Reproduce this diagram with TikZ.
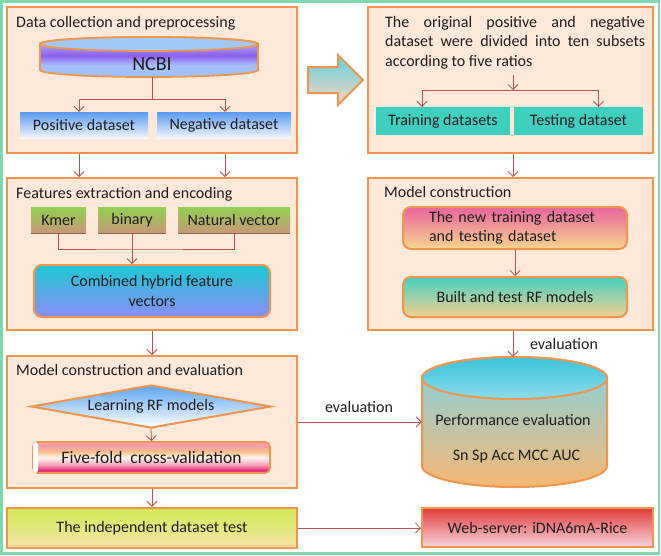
\documentclass[tikz,border=0pt]{standalone}
\usepackage{fontspec}
\setmainfont{Carlito}
\usetikzlibrary{arrows.meta,shapes.geometric,calc}
\definecolor{boxline}{HTML}{F0954E}
\definecolor{boxfill}{HTML}{FDE9DA}
\definecolor{arrowc}{HTML}{C0504D}
\definecolor{outerg}{HTML}{7FD8AE}
\definecolor{dsblue}{HTML}{5A9AF0}
\definecolor{dswhite}{HTML}{F2F6FD}
\definecolor{ncbilight}{HTML}{A6CBF8}
\definecolor{ncbimid}{HTML}{A8BEF8}
\definecolor{ncbipurple}{HTML}{8E5EF0}
\definecolor{ncbilav}{HTML}{9C86F2}
\definecolor{ncbibot}{HTML}{9EC4FA}
\definecolor{ncbitop}{HTML}{A2C8F6}
\definecolor{featgreen}{HTML}{92D050}
\definecolor{featbrown}{HTML}{C8987A}
\definecolor{featline}{HTML}{A0603E}
\definecolor{combtop}{HTML}{1CC8D4}
\definecolor{combbot}{HTML}{8C8EF6}
\definecolor{diamblue}{HTML}{5DA5F2}
\definecolor{fivepink}{HTML}{F7A0A6}
\definecolor{fiveorange}{HTML}{F8BC88}
\definecolor{fivewhite}{HTML}{FFF6F0}
\definecolor{fiverose}{HTML}{F4A0B4}
\definecolor{fivemag}{HTML}{E6337A}
\definecolor{indtop}{HTML}{D2E855}
\definecolor{indbot}{HTML}{F3E7A8}
\definecolor{tealbox}{HTML}{3FCFBF}
\definecolor{newtop}{HTML}{E8649E}
\definecolor{newbot}{HTML}{F8D68E}
\definecolor{builttop}{HTML}{44D0C2}
\definecolor{builtbot}{HTML}{F6D08E}
\definecolor{perftop}{HTML}{7FD3E6}
\definecolor{perfmid}{HTML}{F8E2EA}
\definecolor{perfbot}{HTML}{F7B772}
\definecolor{perfcap}{HTML}{3CC4D8}
\definecolor{perfcapb}{HTML}{8ADCEC}
\definecolor{webred}{HTML}{E03A3A}
\definecolor{webpink}{HTML}{F8D6DE}
\definecolor{arrtop}{HTML}{5ED0E0}
\definecolor{arrmid}{HTML}{F8D8E4}
\definecolor{arrbot}{HTML}{FBD6BE}
\definecolor{txtc}{HTML}{1E1E1E}
\pgfdeclareverticalshading{ncbishade}{100bp}{color(0bp)=(ncbibot); color(25bp)=(ncbibot); color(40bp)=(ncbimid); color(52bp)=(ncbipurple); color(60bp)=(ncbilav); color(75bp)=(ncbilight); color(100bp)=(ncbilight)}
\pgfdeclareverticalshading{fiveshade}{100bp}{color(0bp)=(fivemag); color(25bp)=(fivemag); color(30bp)=(fivemag); color(38bp)=(fiverose); color(50bp)=(fivewhite); color(60bp)=(fiveorange); color(68bp)=(fivepink); color(75bp)=(fivepink); color(100bp)=(fivepink)}
\begin{document}
\begin{tikzpicture}[x=1pt,y=1pt,
  txt/.style={font=\fontsize{16}{19.5}\selectfont, text=txtc},
  stage/.style={draw=boxline, line width=2pt, fill=boxfill, minimum width=290pt, inner sep=0pt},
  ttl/.style={txt, anchor=base west, inner sep=0pt},
  arr/.style={draw=arrowc, line width=0.8pt, -{Straight Barb[length=5pt,width=10pt]}},
  ln/.style={draw=arrowc, line width=0.8pt},
  dsbox/.style={txt, top color=dsblue, bottom color=dswhite, minimum height=26pt, inner sep=0pt},
  featbox/.style={txt, top color=featgreen, bottom color=featbrown, minimum height=26pt, inner sep=0pt},
  tealb/.style={txt, fill=tealbox, minimum height=28pt, inner sep=0pt},
  rbox/.style={txt, draw=boxline, line width=2pt, rounded corners=8pt, inner sep=0pt, align=center},
]
\useasboundingbox (0,0) rectangle (661,-555);
\draw[outerg, line width=2.2pt] (1.5,-1.5) rectangle (659,-553.5);

% ---------- left column ----------
\node[stage, minimum height=146pt] (b1) at (152,-80) {};
\node[ttl] (b1t) at (16,-27) {Data collection and preprocessing};
% NCBI cylinder
\shade[shading=ncbishade, draw=boxline, line width=1.8pt]
  (40,-44) -- (40,-70) arc[start angle=180, end angle=360, x radius=109, y radius=7]
  -- (258,-44) arc[start angle=0, end angle=180, x radius=109, y radius=7] -- cycle;
\filldraw[fill=ncbitop, draw=boxline, line width=1.8pt] (149,-44) ellipse[x radius=109, y radius=7];
\node[font=\fontsize{20}{22}\selectfont, text=txtc, minimum height=26pt, inner sep=0pt] (ncbi) at (152,-64) {NCBI};
\node[dsbox, minimum width=128pt] (pos) at (84,-125) {Positive dataset};
\node[dsbox, minimum width=134pt] (neg) at (224,-125) {Negative dataset};
\coordinate (j1) at (152,-99);
\coordinate (pa) at ($(pos.north)+(-5,0)$);
\coordinate (na) at ($(neg.north)+(1,0)$);
\draw[ln] (ncbi.south) -- (j1);
\draw[arr] (j1) -| (pa);
\draw[arr] (j1) -| (na);

\node[stage, minimum height=152pt] (b2) at (152,-254) {};
\node[ttl] (b2t) at (16,-198) {Features extraction and encoding};
\draw[arr] (pa |- b1.south) -- (pa |- b2.north);
\draw[arr] (na |- b1.south) -- (na |- b2.north);
\node[featbox, minimum width=55pt] (kmer) at (58.5,-220) {Kmer};
\node[featbox, minimum width=68pt] (binary) at (132,-220) {binary};
\node[featbox, minimum width=112pt] (natural) at (234,-220) {Natural vector};
\foreach \n in {kmer,binary,natural}
  \draw[featline, line width=1pt] (\n.south west) -- (\n.south east);
\node[rbox, top color=combtop, bottom color=combbot, minimum width=236pt, minimum height=52pt] (comb) at (152,-291) {Combined hybrid feature\\vectors};
\coordinate (j2) at (133,-249);
\draw[ln] (kmer.south) |- (j2) -| (natural.south);
\draw[arr] (binary.south) -- (binary.south |- comb.north);

\node[stage, minimum height=132pt] (b3) at (152,-422) {};
\node[ttl] (b3t) at (16,-375) {Model construction and evaluation};
\draw[arr] (b2.south) -- (b3.north);
\node[txt, diamond, aspect=5.6, inner sep=0pt, minimum width=240pt, minimum height=43pt, draw=boxline, line width=2pt, top color=diamblue, middle color=diamblue!85!white, bottom color=white] (learn) at (151,-406.5) {Learning RF models};
\node[txt, font=\fontsize{17.5}{20}\selectfont, draw=boxline, line width=1.8pt, rounded corners=5pt, shading=fiveshade, minimum width=237pt, minimum height=31pt, inner sep=0pt] (five) at (151.5,-457.5) {Five-fold\ \ cross-validation};
\fill[white, rounded corners=3pt] ($(five.north west)+(1,-1)$) rectangle ($(five.south west)+(6,1)$);
\draw[arr] (learn.south) -- (five.north);

\node[txt, draw=boxline, line width=2.5pt, top color=indtop, bottom color=indbot, minimum width=290pt, minimum height=40pt, inner sep=0pt] (b4) at (152,-528) {The independent dataset test};
\draw[boxline!60, line width=0.8pt] ($(b4.south west)+(3,4)$) -- ($(b4.south east)+(-3,4)$);
\draw[arr] (b3.south) -- (b4.north);

% ---------- big arrow ----------
\shade[top color=arrtop, middle color=arrmid, bottom color=arrbot, draw=boxline, line width=2pt]
  (308,-67) -- (338,-67) -- (338,-55) -- (363,-80) -- (338,-105) -- (338,-93) -- (308,-93) -- cycle;

% ---------- right column ----------
\node[stage, minimum width=285pt, minimum height=146pt] (b5) at (510.5,-80) {};
\node[txt, anchor=north west, text width=260pt, align=justify, inner sep=0pt] (b5t) at (385,-16) {The original positive and negative\linebreak dataset were divided into ten subsets\linebreak according to five ratios};
\node[tealb, minimum width=134pt] (train) at (443,-121) {Training datasets};
\node[tealb, minimum width=129pt] (test) at (578.5,-121) {Testing dataset};
\coordinate (j5) at (513,-90);
\coordinate (ta) at ($(train.north)+(-21,0)$);
\coordinate (sa) at ($(test.north)+(20,0)$);
\draw[arr] (513,-75) -- (j5);
\draw[ln] (j5) -| (ta);
\draw[ln] (j5) -| (sa);
\draw[arr] ($(ta)+(0,15)$) -- (ta);
\draw[arr] ($(sa)+(0,15)$) -- (sa);

\node[stage, minimum width=285pt, minimum height=152pt] (b6) at (510.5,-254) {};
\node[ttl] (b6t) at (384,-197) {Model construction};
\coordinate (m5) at (513,0);
\draw[arr] (m5 |- b5.south) -- (m5 |- b6.north);
\node[rbox, top color=newtop, bottom color=newbot, minimum width=224pt, minimum height=42pt, align=left, text width=200pt] (newt) at (515,-228) {\hspace*{14pt}The new training dataset\\\hspace*{14pt}and testing dataset};
\node[rbox, top color=builttop, bottom color=builtbot, minimum width=224pt, minimum height=40pt] (built) at (515,-297) {Built and test RF models};
\draw[arr] (newt.south) -- (built.north);

% Performance cylinder
\node[minimum width=185pt, minimum height=130pt, inner sep=0pt] (perf) at (514.5,-422) {};
\shade[top color=perftop, middle color=perfmid, bottom color=perfbot, draw=boxline, line width=2pt]
  (422,-378) -- (422,-466) arc[start angle=180, end angle=360, x radius=92.5, y radius=21]
  -- (607,-378) arc[start angle=0, end angle=180, x radius=92.5, y radius=21] -- cycle;
\shade[top color=perfcap, bottom color=perfcapb, draw=boxline, line width=2pt] (514.5,-378) ellipse[x radius=92.5, y radius=21];
\node[txt] (perft1) at (513,-420) {Performance evaluation};
\node[txt] (perft2) at (516.5,-457) {Sn Sp Acc MCC AUC};
\coordinate (m6) at (513,0);
\draw[arr] (m6 |- b6.south) -- (m6 |- perf.north);
\node[txt] (ev1) at (564,-344) {evaluation};
\draw[arr] (b3.east) -- (b3.east -| perf.west);
\node[txt] (ev2) at (359,-407) {evaluation};

\node[txt, draw=boxline, line width=2pt, top color=webred, bottom color=webpink, minimum width=231pt, minimum height=39pt, inner sep=0pt] (web) at (537.5,-527.5) {Web-server: iDNA6mA-Rice};
\draw[arr] (b4.east) -- (b4.east -| web.west);
\end{tikzpicture}
\end{document}
